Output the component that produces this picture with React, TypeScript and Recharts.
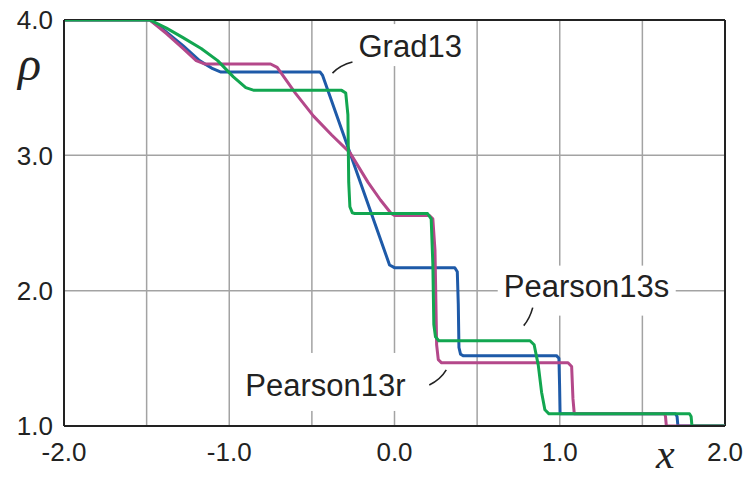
import React from "react"
import { LineChart, Line, XAxis, YAxis, CartesianGrid, ReferenceLine, ReferenceDot } from "recharts"

// x positions of the vertical grid, labels only on whole numbers
const xTicks = [-2, -1.5, -1, -0.5, 0, 0.5, 1, 1.5, 2]
const rhoTicks = [1, 2, 3, 4]

// [x, rho]
const grad13: [number, number][] = [
  [-2.0, 4.0], [-1.48, 4.0], [-1.40, 3.93], [-1.28, 3.81], [-1.18, 3.70], [-1.10, 3.64],
  [-1.05, 3.615], [-0.45, 3.615], [-0.435, 3.59], [-0.03, 2.19], [0.0, 2.17], [0.365, 2.17],
  [0.38, 2.14], [0.386, 1.9], [0.39, 1.58], [0.40, 1.53], [0.415, 1.52], [0.98, 1.52],
  [0.995, 1.50], [0.999, 1.3], [1.002, 1.09], [1.70, 1.09], [1.71, 1.07], [1.715, 1.0], [2.0, 1.0],
]

const pearson13r: [number, number][] = [
  [-2.0, 4.0], [-1.48, 4.0], [-1.38, 3.90], [-1.28, 3.79], [-1.20, 3.70], [-1.15, 3.675],
  [-0.75, 3.675], [-0.71, 3.65], [-0.60, 3.46], [-0.49, 3.29], [-0.38, 3.15], [-0.27, 3.02],
  [-0.16, 2.80], [-0.085, 2.67], [-0.02, 2.57], [0.0, 2.556], [0.21, 2.556], [0.232, 2.53],
  [0.245, 2.3], [0.255, 1.6], [0.265, 1.49], [0.285, 1.467], [1.05, 1.467], [1.072, 1.44],
  [1.08, 1.2], [1.088, 1.09], [1.635, 1.09], [1.64, 1.07], [1.645, 1.0], [2.0, 1.0],
]

const pearson13s: [number, number][] = [
  [-2.0, 4.0], [-1.48, 4.0], [-1.38, 3.94], [-1.28, 3.87], [-1.17, 3.79], [-1.07, 3.70],
  [-0.975, 3.58], [-0.90, 3.50], [-0.85, 3.48], [-0.32, 3.48], [-0.295, 3.46], [-0.282, 3.3],
  [-0.277, 2.8], [-0.27, 2.62], [-0.255, 2.575], [-0.24, 2.57], [0.20, 2.57], [0.222, 2.53],
  [0.232, 2.2], [0.238, 1.75], [0.248, 1.66], [0.268, 1.63], [0.82, 1.63], [0.845, 1.60],
  [0.87, 1.45], [0.89, 1.25], [0.91, 1.12], [0.935, 1.09], [1.785, 1.09], [1.795, 1.07],
  [1.80, 1.0], [2.0, 1.0],
]

const toPoints = (pairs: [number, number][]) => pairs.map(([x, rho]) => ({ x, rho }))

const fmtX = (v: number) => (Number.isInteger(v) ? v.toFixed(1) : "")
const fmtY = (v: number) => v.toFixed(1)

const INK = "#222"
const GRID = "#a3a3a3"
const FONT = "'Liberation Sans', Arial, sans-serif"
const MATH = "'Liberation Serif', 'DejaVu Serif', serif"

// text label on a white patch, with a short curved leader
function Callout(props: any) {
  const { cx, cy, text, box, leader } = props
  if (cx == null || cy == null) return null
  const [l, t, r, b] = box
  const [x1, y1, qx, qy, x2, y2] = leader
  return (
    <g>
      <rect x={cx + l} y={cy + t} width={r - l} height={b - t} fill="#fff" />
      <text x={cx} y={cy} fontSize={31} fontFamily={FONT} fill={INK}>
        {text}
      </text>
      <path
        d={`M${cx + x1},${cy + y1} Q${cx + qx},${cy + qy} ${cx + x2},${cy + y2}`}
        stroke={INK}
        strokeWidth={1.6}
        fill="none"
      />
    </g>
  )
}

export default function App() {
  return (
    <div style={{ position: "absolute", left: 0, top: 0, width: 747, height: 478, background: "#fff" }}>
      <LineChart width={747} height={478} margin={{ top: 20, right: 22, bottom: 0, left: 0 }}>
        <CartesianGrid stroke={GRID} strokeWidth={1.5} />
        <XAxis
          type="number"
          dataKey="x"
          domain={[-2, 2]}
          ticks={xTicks}
          interval={0}
          tickFormatter={fmtX}
          allowDataOverflow
          height={52}
          tickLine={false}
          tickSize={0}
          tickMargin={17}
          axisLine={{ stroke: INK, strokeWidth: 2 }}
          tick={{ fill: INK, fontSize: 26, fontFamily: FONT }}
        />
        <YAxis
          type="number"
          domain={[1, 4]}
          ticks={rhoTicks}
          interval={0}
          tickFormatter={fmtY}
          allowDataOverflow
          width={64}
          tickLine={false}
          tickSize={0}
          tickMargin={11}
          axisLine={{ stroke: INK, strokeWidth: 2 }}
          tick={{ fill: INK, fontSize: 26, fontFamily: FONT }}
        />
        <ReferenceLine y={4} stroke={INK} strokeWidth={2} />
        <ReferenceLine x={2} stroke={INK} strokeWidth={2} />

        <ReferenceDot
          x={-0.218}
          y={3.726}
          r={0}
          shape={(p: any) => (
            <Callout {...p} text="Grad13" box={[-8, -33, 114, 9]} leader={[-26, 16, -18, 8, -6, 5]} />
          )}
        />
        <ReferenceDot
          x={0.661}
          y={1.956}
          r={0}
          shape={(p: any) => (
            <Callout {...p} text="Pearson13s" box={[-6, -31, 172, 19]} leader={[20, 29, 26, 22, 29, 11]} />
          )}
        />
        <ReferenceDot
          x={-0.903}
          y={1.222}
          r={0}
          shape={(p: any) => (
            <Callout {...p} text="Pearson13r" box={[-5, -43, 175, 15]} leader={[184, -11, 195, -16, 201, -26]} />
          )}
        />

        <Line
          data={toPoints(grad13)}
          dataKey="rho"
          type="linear"
          stroke="#1e5aa8"
          strokeWidth={3}
          dot={false}
          strokeLinejoin="round"
          isAnimationActive={false}
        />
        <Line
          data={toPoints(pearson13r)}
          dataKey="rho"
          type="linear"
          stroke="#b4488a"
          strokeWidth={3}
          dot={false}
          strokeLinejoin="round"
          isAnimationActive={false}
        />
        <Line
          data={toPoints(pearson13s)}
          dataKey="rho"
          type="linear"
          stroke="#12a650"
          strokeWidth={3}
          dot={false}
          strokeLinejoin="round"
          isAnimationActive={false}
        />
      </LineChart>
      <div
        style={{
          position: "absolute", left: 18, top: 36, fontSize: 48, lineHeight: "56px",
          fontFamily: MATH, fontStyle: "italic", color: INK,
        }}
      >
        ρ
      </div>
      <div
        style={{
          position: "absolute", left: 656, top: 431, fontSize: 42, lineHeight: "46px",
          fontFamily: MATH, fontStyle: "italic", color: INK,
        }}
      >
        x
      </div>
    </div>
  )
}
